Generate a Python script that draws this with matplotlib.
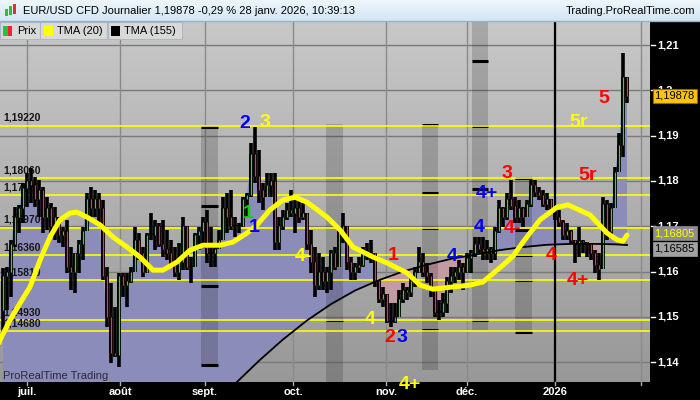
import matplotlib.pyplot as plt
import matplotlib.transforms as mtransforms
from matplotlib.colors import LinearSegmentedColormap
from matplotlib.patches import Rectangle
import numpy as np

plt.rcParams['font.family'] = ['Liberation Sans', 'DejaVu Sans']

# EUR/USD daily bars, 23 june 2025 -> 28 jan 2026 (x = bar number)
highs = [1.1608, 1.1610, 1.1670, 1.1742, 1.1747, 1.1795, 1.1817, 1.1828, 1.1809, 1.1802,
         1.1787, 1.1765, 1.1751, 1.1742, 1.1714, 1.1698, 1.1714, 1.1654, 1.1641, 1.1670,
         1.1698, 1.1773, 1.1787, 1.1780, 1.1773, 1.1758, 1.1610, 1.1575, 1.1522, 1.1597,
         1.1597, 1.1597, 1.1610, 1.1698, 1.1685, 1.1654, 1.1685, 1.1729, 1.1714, 1.1707,
         1.1714, 1.1692, 1.1670, 1.1654, 1.1663, 1.1720, 1.1676, 1.1632, 1.1685, 1.1698,
         1.1720, 1.1736, 1.1698, 1.1654, 1.1692, 1.1765, 1.1773, 1.1780, 1.1720, 1.1707,
         1.1765, 1.1773, 1.1884, 1.1919, 1.1868, 1.1795, 1.1817, 1.1817, 1.1817, 1.1720,
         1.1736, 1.1751, 1.1780, 1.1765, 1.1758, 1.1751, 1.1729, 1.1692, 1.1654, 1.1641,
         1.1632, 1.1610, 1.1647, 1.1654, 1.1698, 1.1729, 1.1663, 1.1632, 1.1619, 1.1632,
         1.1654, 1.1663, 1.1670, 1.1632, 1.1581, 1.1566, 1.1537, 1.1530, 1.1530, 1.1559,
         1.1575, 1.1566, 1.1588, 1.1610, 1.1654, 1.1641, 1.1619, 1.1597, 1.1553, 1.1537,
         1.1553, 1.1588, 1.1610, 1.1610, 1.1625, 1.1619, 1.1641, 1.1647, 1.1676, 1.1676,
         1.1676, 1.1670, 1.1654, 1.1698, 1.1758, 1.1742, 1.1773, 1.1802, 1.1765, 1.1758,
         1.1742, 1.1758, 1.1802, 1.1802, 1.1787, 1.1780, 1.1773, 1.1758, 1.1742, 1.1736,
         1.1714, 1.1707, 1.1692, 1.1663, 1.1698, 1.1670, 1.1663, 1.1654, 1.1647, 1.1641,
         1.1765, 1.1758, 1.1751, 1.1831, 1.1906, 1.2082, 1.2023]
lows = [1.1464, 1.1515, 1.1544, 1.1654, 1.1685, 1.1707, 1.1742, 1.1751, 1.1742, 1.1720,
        1.1685, 1.1692, 1.1685, 1.1670, 1.1663, 1.1654, 1.1597, 1.1559, 1.1553, 1.1597,
        1.1625, 1.1692, 1.1720, 1.1720, 1.1707, 1.1581, 1.1478, 1.1398, 1.1411, 1.1389,
        1.1544, 1.1522, 1.1575, 1.1610, 1.1625, 1.1588, 1.1597, 1.1670, 1.1647, 1.1654,
        1.1632, 1.1625, 1.1610, 1.1588, 1.1581, 1.1603, 1.1603, 1.1575, 1.1619, 1.1647,
        1.1654, 1.1619, 1.1610, 1.1610, 1.1654, 1.1670, 1.1685, 1.1692, 1.1676, 1.1685,
        1.1698, 1.1720, 1.1765, 1.1795, 1.1751, 1.1736, 1.1765, 1.1765, 1.1647, 1.1647,
        1.1692, 1.1714, 1.1720, 1.1685, 1.1707, 1.1714, 1.1647, 1.1597, 1.1544, 1.1559,
        1.1559, 1.1553, 1.1559, 1.1603, 1.1625, 1.1663, 1.1603, 1.1581, 1.1581, 1.1597,
        1.1610, 1.1625, 1.1619, 1.1566, 1.1530, 1.1522, 1.1486, 1.1478, 1.1486, 1.1500,
        1.1530, 1.1537, 1.1544, 1.1566, 1.1597, 1.1588, 1.1575, 1.1544, 1.1500, 1.1493,
        1.1500, 1.1508, 1.1553, 1.1575, 1.1581, 1.1559, 1.1597, 1.1597, 1.1632, 1.1641,
        1.1625, 1.1625, 1.1619, 1.1625, 1.1685, 1.1698, 1.1714, 1.1736, 1.1707, 1.1707,
        1.1698, 1.1720, 1.1742, 1.1765, 1.1758, 1.1742, 1.1736, 1.1729, 1.1714, 1.1698,
        1.1670, 1.1670, 1.1663, 1.1619, 1.1632, 1.1641, 1.1632, 1.1625, 1.1597, 1.1581,
        1.1632, 1.1670, 1.1676, 1.1742, 1.1824, 1.1853, 1.1972]
closes = [1.1590, 1.1600, 1.1660, 1.1720, 1.1740, 1.1785, 1.1800, 1.1790, 1.1760, 1.1780,
          1.1720, 1.1740, 1.1700, 1.1720, 1.1680, 1.1690, 1.1610, 1.1600, 1.1640, 1.1660,
          1.1690, 1.1760, 1.1740, 1.1760, 1.1740, 1.1590, 1.1500, 1.1420, 1.1415, 1.1590,
          1.1570, 1.1580, 1.1600, 1.1670, 1.1640, 1.1600, 1.1680, 1.1680, 1.1700, 1.1660,
          1.1650, 1.1640, 1.1620, 1.1600, 1.1620, 1.1700, 1.1610, 1.1610, 1.1680, 1.1690,
          1.1710, 1.1640, 1.1640, 1.1650, 1.1670, 1.1740, 1.1720, 1.1700, 1.1700, 1.1700,
          1.1760, 1.1770, 1.1860, 1.1810, 1.1780, 1.1765, 1.1790, 1.1800, 1.1665, 1.1700,
          1.1720, 1.1735, 1.1730, 1.1740, 1.1720, 1.1730, 1.1660, 1.1620, 1.1570, 1.1600,
          1.1580, 1.1600, 1.1640, 1.1610, 1.1690, 1.1700, 1.1620, 1.1600, 1.1610, 1.1615,
          1.1640, 1.1635, 1.1640, 1.1580, 1.1540, 1.1550, 1.1490, 1.1490, 1.1500, 1.1540,
          1.1560, 1.1555, 1.1580, 1.1600, 1.1620, 1.1600, 1.1590, 1.1560, 1.1510, 1.1510,
          1.1530, 1.1580, 1.1590, 1.1600, 1.1610, 1.1600, 1.1630, 1.1640, 1.1660, 1.1650,
          1.1645, 1.1650, 1.1640, 1.1690, 1.1740, 1.1720, 1.1760, 1.1745, 1.1720, 1.1740,
          1.1720, 1.1750, 1.1790, 1.1775, 1.1770, 1.1750, 1.1760, 1.1740, 1.1720, 1.1710,
          1.1680, 1.1690, 1.1670, 1.1662, 1.1668, 1.1665, 1.1663, 1.1640, 1.1615, 1.1605,
          1.1750, 1.1690, 1.1740, 1.1820, 1.1880, 1.2030, 1.19878]
first_open = 1.1515

# TMA lines (bar, value)
tma20_bars = [-1.5, -0.75, 1.75, 4.25, 6.75, 9.25, 11.75, 14.25, 16.75, 18.5, 21, 24.25,
              27.5, 31, 34.25, 37.5, 40, 43.5, 46.75, 50, 54.25, 57.5, 61, 63.5, 66.75,
              70, 73, 76, 81, 84.25, 87.5, 92.5, 96, 101, 104.25, 107.5, 112.5, 116.75,
              120, 125, 127.5, 130, 134.25, 138.5, 141.25, 146.75, 151, 153.5, 155, 156]
tma20_vals = [1.1430, 1.1449, 1.1493, 1.1530, 1.1566, 1.1625, 1.1676, 1.1714, 1.1729, 1.1731,
              1.1720, 1.1703, 1.1676, 1.1654, 1.1632, 1.1603, 1.1603, 1.1621, 1.1647, 1.1658,
              1.1658, 1.1665, 1.1685, 1.1703, 1.1736, 1.1758, 1.1764, 1.1753, 1.1720, 1.1692,
              1.1654, 1.1632, 1.1619, 1.1597, 1.1570, 1.1561, 1.1566, 1.1570, 1.1577, 1.1614,
              1.1634, 1.1665, 1.1714, 1.1742, 1.1747, 1.1725, 1.1685, 1.1670, 1.1667, 1.16805]
tma155_bars = [56, 60, 64, 70, 76, 82, 88, 94, 100, 106, 112, 118, 124, 130, 136, 142, 148, 153, 156]
tma155_vals = [1.1335, 1.1369, 1.1403, 1.1450, 1.1492, 1.1528, 1.1558, 1.1581, 1.1600, 1.1615,
               1.1628, 1.1637, 1.1647, 1.1654, 1.1659, 1.1661, 1.1661, 1.1660, 1.16585]

levels = [1.19220, 1.18060, 1.17680, 1.16970, 1.16360, 1.15810, 1.14930, 1.14680]
level_labels = ['1,19220', '1,18060', '1,17680', '1,16970', '1,16360', '1,15810', '1,14930', '1,14680']

price_ticks = [1.14, 1.15, 1.16, 1.17, 1.18, 1.19, 1.20, 1.21]
price_tick_labels = ['1,14', '1,15', '1,16', '1,17', '1,18', '1,19', '1,2', '1,21']

month_pos = [6, 29.25, 50.5, 72.5, 95.75, 116, 138, 159.5]
month_names = ['juil.', 'août', 'sept.', 'oct.', 'nov.', 'déc.', '2026', '']

# pivot zones: first bar, last bar, top, bottom, pivot levels
bands = [(49.5, 53.75, 1.1919, 1.1389, [1.1919, 1.1745, 1.1656, 1.1568, 1.1394]),
         (80.75, 85, 1.1926, 1.1300, [1.1493]),
         (104.75, 108.75, 1.1923, 1.1383, [1.1923, 1.1773, 1.1696, 1.1471]),
         (117.25, 121.25, 1.2200, 1.1471, [1.2065, 1.1921, 1.1782, 1.1493]),
         (128, 132.25, 1.1806, 1.1467, [1.1806, 1.1692, 1.1636, 1.1581, 1.1467])]

RED, BLUE, YEL, GRN = '#ff0000', '#0000ff', '#ffff00', '#00dd00'
waves = [(60.5, 1.1926, '2', BLUE), (65.5, 1.1928, '3', YEL),
         (61.25, 1.1729, '1', GRN), (62.75, 1.1698, '1', BLUE),
         (75, 1.1634, '4-', YEL), (97.5, 1.1636, '1', RED),
         (91.75, 1.1493, '4', YEL), (96.75, 1.1455, '2', RED), (99.75, 1.1455, '3', BLUE),
         (113, 1.1634, '4-', BLUE), (119, 1.1698, '4', BLUE), (121, 1.1773, '4+', BLUE),
         (126, 1.1817, '3', RED), (127.25, 1.1696, '4-', RED), (137, 1.1636, '4', RED),
         (143.75, 1.1581, '4+', RED), (146.25, 1.1813, '5r', RED), (144, 1.1928, '5r', YEL),
         (150.25, 1.1981, '5', RED), (101.75, 1.1350, '4+', YEL)]

x = np.arange(len(closes))
c = np.array(closes)
o = np.concatenate([[first_open], c[:-1]])
h = np.maximum(np.array(highs), np.maximum(o, c))
l = np.minimum(np.array(lows), np.minimum(o, c))

fig = plt.figure(figsize=(7, 4), dpi=100, facecolor='black')
ax = fig.add_axes([0, 18 / 400, 650 / 700, 360 / 400])
X0, X1 = -0.75, 161.75
Y0, Y1 = 1.13561, 1.21508

# background gradient
bg = LinearSegmentedColormap.from_list('bg', ['#989898', '#c8c8c8'])
ax.imshow(np.linspace(0, 1, 256).reshape(-1, 1), extent=[X0, X1, Y0, Y1], origin='lower',
          cmap=bg, aspect='auto', zorder=0)

for p in price_ticks:
    ax.axhline(p, color='#7a7a7a', lw=1, zorder=1)
for m in month_pos:
    ax.axvline(m, color='#8a8a8a', lw=1, zorder=1)

# fill between price and TMA(155)
t155 = np.interp(x, tma155_bars, tma155_vals)
ax.fill_between(x, c, t155, where=c >= t155, interpolate=True, color='#8c8cba', lw=0, zorder=1.5)
ax.fill_between(x, c, t155, where=c < t155, interpolate=True, color='#c49aa4', lw=0, zorder=1.5)

for b0, b1, top, bot, piv in bands:
    ax.add_patch(Rectangle((b0, bot), b1 - b0, top - bot, color='black', alpha=0.16, lw=0, zorder=2))
    for pv in piv:
        ax.plot([b0, b1], [pv, pv], color='black', lw=2.2, solid_capstyle='butt', zorder=2.1)

for lv, lab in zip(levels, level_labels):
    ax.axhline(lv, color='#ffff00', lw=1.2, zorder=3)
    ax.text(0.0, lv + 0.0006, lab, fontsize=7.5, fontweight='bold', color='#151515',
            va='bottom', ha='left', zorder=3.2)

# candles
up = c >= o
ax.vlines(x, l, h, color='black', lw=2.6, zorder=4)
ax.bar(x, np.maximum(np.abs(c - o), 0.0003), bottom=np.minimum(o, c) - 0.00005,
       width=0.98, color='black', zorder=4.1)
ax.vlines(x[up], o[up], c[up], color='#3ad23a', lw=0.9, zorder=4.2)
ax.vlines(x[~up], c[~up], o[~up], color='#ff2a50', lw=0.9, zorder=4.2)

ax.axvline(138, color='black', lw=1.6, zorder=4.5)
ax.plot(tma155_bars, tma155_vals, color='black', lw=1.3, zorder=5)
ax.plot(tma20_bars, tma20_vals, color='#ffff00', lw=3.6, solid_capstyle='round', zorder=6)

for wx, wy, wt, wc in waves:
    ax.text(wx, wy, wt, color=wc, fontsize=14, fontweight='bold', ha='center', va='center',
            zorder=7)

ax.text(0.004, 0.017, 'ProRealTime Trading', transform=ax.transAxes, fontsize=8,
        color='#2a2a3a', va='center', ha='left', zorder=8)

ax.set_xlim(X0, X1)
ax.set_ylim(Y0, Y1)
ax.set_xticks([])
ax.set_yticks([])
for s in ax.spines.values():
    s.set_visible(False)

# right price scale
ry = mtransforms.blended_transform_factory(ax.transAxes, ax.transData)
for p, lab in zip(price_ticks, price_tick_labels):
    ax.plot([1.0015, 1.0075], [p, p], transform=ry, color='white', lw=1, clip_on=False, zorder=8)
    ax.text(1.0105, p, lab, transform=ry, color='white', fontsize=8, fontweight='bold',
            va='center', ha='left', clip_on=False, zorder=8)
ax.annotate('1,19878', xy=(1.007, closes[-1]), xycoords=ry, xytext=(0, 0), textcoords='offset points',
            fontsize=8, color='black', va='center', ha='left', annotation_clip=False, zorder=9,
            bbox=dict(boxstyle='square,pad=0.18', fc='#ffc20e', ec='#8a6a00', lw=0.8))
ax.annotate('1,16805', xy=(1.007, tma20_vals[-1]), xycoords=ry, xytext=(0, 1.2), textcoords='offset points',
            fontsize=8, color='#ffff00', va='center', ha='left', annotation_clip=False, zorder=9,
            bbox=dict(boxstyle='square,pad=0.18', fc='#8e8e8e', ec='#8e8e8e', lw=0.5))
ax.annotate('1,16585', xy=(1.007, tma155_vals[-1]), xycoords=ry, xytext=(0, -2.6), textcoords='offset points',
            fontsize=8, color='black', va='center', ha='left', annotation_clip=False, zorder=9,
            bbox=dict(boxstyle='square,pad=0.18', fc='#a2a2a2', ec='#a2a2a2', lw=0.5))

# bottom time scale
bx = mtransforms.blended_transform_factory(ax.transData, ax.transAxes)
for m, name in zip(month_pos, month_names):
    ax.plot([m, m], [0, -0.008], transform=bx, color='#b0b0b0', lw=1, clip_on=False, zorder=8)
    ax.text(m, -0.028, name, transform=bx, color='white', fontsize=8, fontweight='bold',
            ha='center', va='center', clip_on=False, zorder=8)

# title bar and legend
top = fig.add_axes([0, 0, 1, 1], zorder=10)
top.axis('off')
top.patch.set_alpha(0)
tb = LinearSegmentedColormap.from_list('tb', ['#eef6fc', '#d4e6f3'])
top.imshow(np.linspace(0, 1, 64).reshape(-1, 1), extent=[0, 700, 21, 0], cmap=tb, aspect='auto')
top.plot([0, 700], [21, 21], color='#9ab0c4', lw=1)
top.set_xlim(0, 700)
top.set_ylim(400, 0)
for bx0, by0, bh, col in [(5, 9, 7, '#2fbf2f'), (9, 6, 9, '#2fbf2f'), (13, 4, 10, '#e03030')]:
    top.add_patch(Rectangle((bx0, by0), 2.5, bh, color=col, lw=0))
top.text(23, 11, 'EUR/USD CFD Journalier 1,19878 -0,29 % 28 janv. 2026, 10:39:13', fontsize=8,
         color='black', va='center', ha='left')
top.text(695, 11, 'Trading.ProRealTime.com', fontsize=8, color='black', va='center', ha='right')

for lx0, lx1, name in [(0, 39.5, 'Prix'), (40, 107, 'TMA (20)'), (107.5, 182, 'TMA (155)')]:
    top.add_patch(Rectangle((lx0, 22), lx1 - lx0, 17, fc='#d9d9d9', ec='#a9b9c9', lw=0.8))
    top.text(lx0 + 17, 30.5, name, fontsize=8, color='black', va='center', ha='left')
top.add_patch(Rectangle((3, 25.5), 4.5, 10, color='#30c030', lw=0))
top.add_patch(Rectangle((7.5, 25.5), 4.5, 10, color='#f02040', lw=0))
top.add_patch(Rectangle((43.5, 25.5), 9, 10, color='#ffff00', lw=0))
top.add_patch(Rectangle((111, 25.5), 9, 10, color='black', lw=0))

fig.savefig('out.png', dpi=100, facecolor='black')
